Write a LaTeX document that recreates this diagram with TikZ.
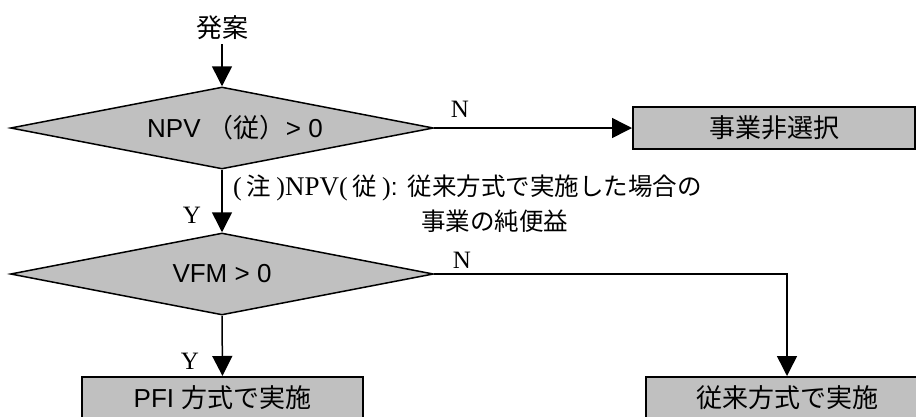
\documentclass[tikz,border=0pt]{standalone}
\usepackage{fontspec}
\setmainfont{Liberation Sans}
\newfontfamily\cjk{Noto Sans CJK JP}
\newfontfamily\tms{Liberation Serif}
\usetikzlibrary{arrows.meta,shapes.geometric}
\definecolor{boxgray}{HTML}{C0C0C0}
\tikzset{
  dec/.style={diamond, draw, fill=boxgray, line width=1.5pt, aspect=5.16, minimum width=423pt, minimum height=82pt, inner sep=0pt, font=\fontsize{26}{30}\selectfont},
  boxn/.style={rectangle, draw, fill=boxgray, line width=2pt, minimum height=42pt, inner sep=0pt, font=\fontsize{26}{30}\selectfont},
  arr/.style={-{Triangle[length=20pt,width=20pt]}, line width=1.5pt},
  lbl/.style={font=\tms\fontsize{25}{28}\selectfont, inner sep=0pt},
  notetxt/.style={font=\fontsize{24.5}{28}\selectfont, inner sep=0pt, anchor=west}
}
\newcommand{\prn}[1]{{\tms\fontsize{26}{28}\selectfont #1}}
\begin{document}
\begin{tikzpicture}[x=1pt,y=-1pt]
\useasboundingbox (0,0) rectangle (916,416);
\clip (0,0) rectangle (916,416);
\node[font=\cjk\fontsize{26}{30}\selectfont, inner sep=4pt] (start) at (222,28) {発案};
\node[dec] (d1) at (222,128) {\hspace*{26pt}NPV {\cjk （従）}> 0};
\node[boxn, minimum width=282pt] (b1) at (774,128) {\cjk 事業非選択};
\node[dec] (d2) at (222,274) {VFM > 0};
\node[boxn, minimum width=281pt] (b2) at (222.5,398) {PFI {\cjk 方式で実施}};
\node[boxn, minimum width=282pt] (b3) at (787,398) {\cjk 従来方式で実施};
\node[lbl] (n1) at (460,109) {N};
\node[lbl] (n2) at (462,260) {N};
\node[lbl] (y1) at (192,215) {Y};
\node[lbl] (y2) at (190,361) {Y};
\node[notetxt] (note1) at (233,188) {\prn{(}\hspace{5pt}{\cjk 注}\hspace{5pt}\prn{)}{\tms\fontsize{27}{28}\selectfont NPV}\prn{(}\hspace{5pt}{\cjk 従}\hspace{5pt}\prn{)}:\hspace{10pt}{\cjk 従来方式で実施した場合の}};
\node[notetxt] (note2) at (421,221) {\cjk 事業の純便益};
\draw[arr] (start.south) -- (d1.north);
\draw[arr] (d1.east) -- (b1.west);
\draw[arr] (d1.south) -- (d2.north);
\draw[arr] (d2.south) -- (b2.north);
\draw[arr] (d2.east) -| (b3.north);
\end{tikzpicture}
\end{document}
